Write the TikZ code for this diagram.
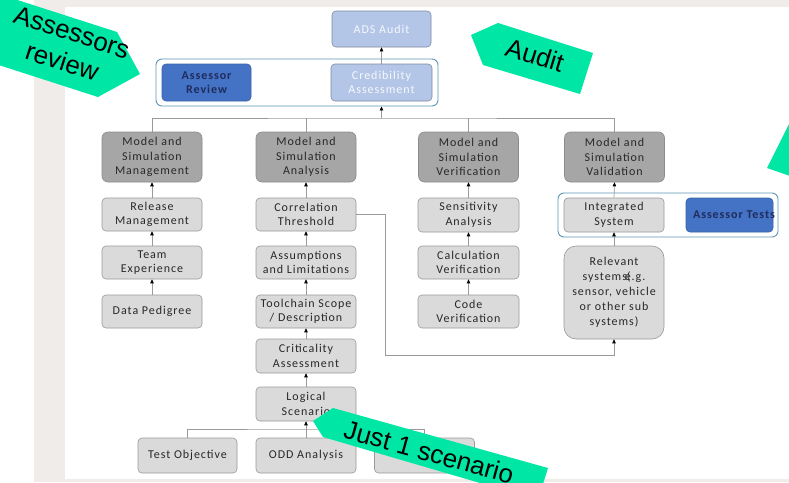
\documentclass[tikz,border=0pt]{standalone}
\usepackage{fontspec}
\newfontfamily\boxfont{Carlito}[LetterSpace=8]
\newfontfamily\labfont{Liberation Sans}
\usetikzlibrary{arrows.meta}
\definecolor{pagegrey}{HTML}{EFECE9}
\definecolor{mint}{HTML}{00E6A5}
\definecolor{dgrey}{HTML}{A6A6A6}
\definecolor{lgrey}{HTML}{DADADA}
\definecolor{lblue}{HTML}{B4C6E7}
\definecolor{mblue}{HTML}{4472C4}
\definecolor{navy}{HTML}{1F2C5C}
\definecolor{contline}{HTML}{5E97B8}
\definecolor{conn}{HTML}{9A9A9A}
\definecolor{txt}{HTML}{282828}
\begin{document}
\begin{tikzpicture}[x=1pt,y=-1pt,
 base/.style={rounded corners=4pt, inner sep=0pt, align=center, font=\boxfont\fontsize{12}{14.5}\selectfont, text=txt, line width=0.6pt},
 sz/.style 2 args={minimum width=#1, minimum height=#2},
 dark/.style={base, fill=dgrey, draw=black!45, rounded corners=6pt},
 light/.style={base, fill=lgrey, draw=black!40},
 pale/.style={base, fill=lblue, draw=lblue!70!black, text=white!88!lblue},
 strong/.style={base, fill=mblue, draw=mblue!85!black, text=navy, font=\boxfont\bfseries\fontsize{12}{14.5}\selectfont},
 cont/.style={draw=contline, line width=0.9pt, rounded corners=6pt, fill=white, inner sep=0pt},
 link/.style={draw=conn, line width=0.7pt},
 up/.style={link, -{Triangle[length=4pt,width=3.5pt,color=black]}},
 labtext/.style={font=\labfont\fontsize{26}{31}\selectfont, align=center, inner sep=0pt, text=black}
]
\useasboundingbox (0,0) rectangle (789,482);
\clip (0,0) rectangle (789,482);
% page background
\fill[pagegrey] (34,0) rectangle (789,482);
\fill[white] (65,7) rectangle (789,479);

% containers
\node[cont, sz={282}{47}] (cont1) at (297,82.5) {};
\node[cont, sz={220}{44}] (cont2) at (668,215) {};

% top boxes
\node[pale, sz={99}{36}] (ads) at (381.5,29) {ADS Audit};
\node[strong, sz={89}{37}] (arev) at (206.5,82.5) {Assessor\\Review};
\node[pale, sz={101}{37}] (cred) at (381.5,82.5) {Credibility\\Assessment};

% column heads
\node[dark, sz={100}{50}] (msm) at (152,157) {Model and\\Simulation\\Management};
\node[dark, sz={100}{50}] (msa) at (306,157) {Model and\\Simulation\\Analysis};
\node[dark, sz={100}{50}] (msv) at (468.5,157) {Model and\\Simulation\\Verification};
\node[dark, sz={100}{50}] (msval) at (614.5,157) {Model and\\Simulation\\Validation};

% column 1
\node[light, sz={100}{33}] (rel) at (152,214.5) {Release\\Management};
\node[light, sz={100}{33}] (team) at (152,262.5) {Team\\Experience};
\node[light, sz={100}{33}] (data) at (152,311.5) {Data Pedigree};

% column 2
\node[light, sz={100}{33}] (corr) at (306,214.5) {Correlation\\Threshold};
\node[light, sz={100}{33}] (assum) at (306,262.5) {Assumptions\\and Limitations};
\node[light, sz={100}{33}] (tool) at (306,311.5) {Toolchain Scope\\/ Description};
\node[light, sz={100}{34}] (crit) at (306,356) {Criticality\\Assessment};
\node[light, sz={100}{34}] (logi) at (306,404) {Logical\\Scenario};
\node[light, sz={99}{35}] (testobj) at (187.5,455.5) {Test Objective};
\node[light, sz={100}{35}] (odd) at (306,455.5) {ODD Analysis};
\node[light, sz={100}{35}] (third) at (424.5,455.5) {};

% column 3
\node[light, sz={101}{34}] (sens) at (468.5,215) {Sensitivity\\Analysis};
\node[light, sz={101}{33}] (calc) at (468.5,262.5) {Calculation\\Verification};
\node[light, sz={101}{33}] (code) at (468.5,311.5) {Code\\Verification};

% column 4
\node[light, sz={100}{34}] (integ) at (614,215) {Integrated\\System};
\node[strong, sz={87}{34}] (atests) at (729.5,215) {};
\node[base, text=navy, font=\boxfont\bfseries\fontsize{12}{14.5}\selectfont] (atxt) at (734,215) {Assessor Tests};
\node[light, sz={100}{93}, rounded corners=12pt, font=\boxfont\fontsize{12}{15}\selectfont] (relev) at (614,292.5) {Relevant\\systems\kern-2pt e\kern-4pt(.g.\\sensor, vehicle\\or other sub\\systems)};

% connectors: top
\draw[up] (cred.north) -- (ads.south);
\coordinate (j) at (381.5,118);
\draw[link] (msm.north) |- (j) -| (msval.north);
\draw[link] (msa.north) -- (msa.north |- j);
\draw[link] (msv.north) -- (msv.north |- j);
\draw[up] (j) -- (j |- cont1.south);

% column chains
\draw[up] (rel.north) -- (msm.south);
\draw[up] (team.north) -- (rel.south);
\draw[up] (data.north) -- (team.south);
\draw[up] (corr.north) -- (msa.south);
\draw[up] (assum.north) -- (corr.south);
\draw[up] (tool.north) -- (assum.south);
\draw[up] (crit.north) -- (tool.south);
\draw[up] (logi.north) -- (crit.south);
\draw[up] (sens.north) -- (msv.south);
\draw[up] (calc.north) -- (sens.south);
\draw[up] (code.north) -- (calc.south);
\draw[up] (integ.north) -- (msval.south);
\draw[up] (relev.north) -- (integ.south);

% bottom tree
\coordinate (k) at (306,429);
\draw[link] (testobj.north) |- (k) -| (third.north);
\draw[link] (odd.north) -- (odd.north |- k);
\draw[up] (k) -- (logi.south);

% feedback line
\coordinate (fb) at (385,355);
\draw[up] (corr.east) -| (fb) -| (relev.south);

% mint callouts
\fill[mint] (-20,-12) -- (117,32) -- (140,74) -- (98,97) -- (-20,59) -- cycle;
\node[labtext, rotate=-18] (lab1) at (67,47) {Assessors\\review};
\fill[mint] (471,35) -- (498,23) -- (593,53) -- (580,94) -- (483,65) -- cycle;
\node[labtext, rotate=-17] (lab2) at (535,55) {Audit};
\fill[mint] (790,122) -- (767,168) -- (790,176) -- cycle;
\fill[mint] (313,421) -- (333,408) -- (548,468) -- (538,500) -- (323,437) -- cycle;
\node[labtext, rotate=-15.5] (lab3) at (429,452) {Just 1 scenario};
\end{tikzpicture}
\end{document}
